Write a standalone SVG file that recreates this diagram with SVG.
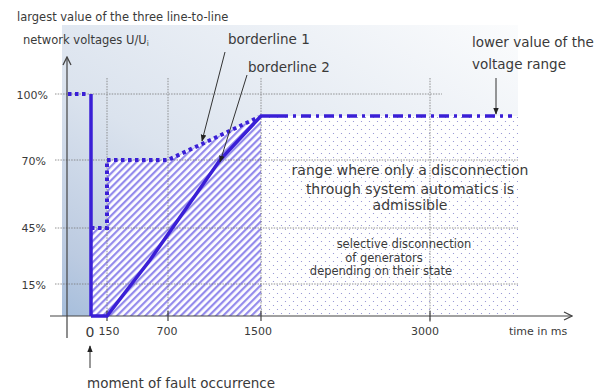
<svg xmlns="http://www.w3.org/2000/svg" width="609" height="392" viewBox="0 0 609 392">
<defs>
<linearGradient id="bg" x1="0" y1="1" x2="1" y2="0">
<stop offset="0" stop-color="#a6bedc"/>
<stop offset="0.12" stop-color="#bccbe1"/>
<stop offset="0.4" stop-color="#dbe3ee"/>
<stop offset="1" stop-color="#fbfcfd"/>
</linearGradient>
<pattern id="hatch" width="5" height="5" patternUnits="userSpaceOnUse" patternTransform="rotate(45)">
<rect width="5" height="5" fill="#ffffff"/>
<rect width="2.2" height="5" fill="#948bec"/>
</pattern>
<pattern id="dots" width="8" height="8" patternUnits="userSpaceOnUse">
<rect width="8" height="8" fill="#ffffff"/>
<circle cx="1.5" cy="1.5" r="0.6" fill="#8a8ad0"/>
<circle cx="5.5" cy="5.5" r="0.6" fill="#8a8ad0"/>
</pattern>
<marker id="arr" viewBox="0 0 10 10" refX="9" refY="5" markerWidth="7" markerHeight="7" orient="auto-start-reverse" markerUnits="userSpaceOnUse">
<path d="M0,1 L10,5 L0,9 z" fill="#222"/>
</marker>
<marker id="axarr" viewBox="0 0 10 10" refX="9" refY="5" markerWidth="10" markerHeight="10" orient="auto" markerUnits="userSpaceOnUse">
<path d="M1,1 L9,5 L1,9" fill="none" stroke="#444" stroke-width="1.3"/>
</marker>
</defs>
<style>
text{font-family:"DejaVu Sans","Liberation Sans",sans-serif;fill:#3a3a3a}
.grid{stroke:#777;stroke-width:0.8;stroke-dasharray:1.5 1.2;fill:none}
.axis{stroke:#444;stroke-width:1.2;fill:none}
.main{stroke:#3a1fd6;stroke-width:3.5;fill:none}
.dot{stroke:#3a1fd6;stroke-width:4;fill:none;stroke-dasharray:3.5 3.5}
.lead{stroke:#333;stroke-width:1;fill:none}
.yl{font-size:11px;text-anchor:end}
.xl{font-size:11px;text-anchor:middle}
</style>

<g id="background">
<rect x="62" y="25" width="456" height="291" fill="url(#bg)"/>
<rect x="261" y="116" width="257" height="200" fill="url(#dots)"/>
<path d="M91,316 L91,228 L107,228 L107,160 L168,160 L261,116 L261,316 Z" fill="url(#hatch)"/>
</g>

<g id="grid">
<line class="grid" x1="55" y1="94" x2="442" y2="94"/>
<line class="grid" x1="55" y1="160" x2="518" y2="160"/>
<line class="grid" x1="55" y1="228" x2="518" y2="228"/>
<line class="grid" x1="55" y1="284" x2="518" y2="284"/>
<line class="grid" x1="107" y1="78" x2="107" y2="316"/>
<line class="grid" x1="168" y1="78" x2="168" y2="316"/>
<line class="grid" x1="261" y1="78" x2="261" y2="316"/>
<line class="grid" x1="430" y1="78" x2="430" y2="322"/>
</g>

<g id="axes">
<line class="axis" x1="67" y1="338" x2="67" y2="57" marker-end="url(#axarr)"/>
<line class="axis" x1="50" y1="316" x2="572" y2="316" marker-end="url(#axarr)"/>
<line class="axis" x1="107" y1="311" x2="107" y2="321"/>
<line class="axis" x1="168" y1="311" x2="168" y2="321"/>
<line class="axis" x1="261" y1="311" x2="261" y2="321"/>
<line class="axis" x1="430" y1="311" x2="430" y2="321"/>
</g>

<g id="curves">
<line class="dot" x1="68" y1="94" x2="88" y2="94"/>
<line class="main" x1="91" y1="94" x2="91" y2="316"/>
<polyline class="dot" points="91,228 107,228 107,160 168,160 259,117"/>
<polyline class="main" points="91,316 107,316 150,260 220,160 261,116 278,116"/>
<line class="main" x1="278" y1="116" x2="512" y2="116" stroke-width="4" stroke-dasharray="10 5 3 5"/>
</g>

<g id="connectors">
<line class="lead" x1="225" y1="52" x2="202" y2="141" marker-end="url(#arr)"/>
<line class="lead" x1="247" y1="75" x2="220" y2="162" marker-end="url(#arr)"/>
<line class="lead" x1="496" y1="78" x2="496" y2="114" marker-end="url(#arr)"/>
<line class="lead" x1="90" y1="368" x2="90" y2="346" marker-end="url(#arr)"/>
</g>

<g id="labels">
<text x="17" y="21" font-size="11.5">largest value of the three line-to-line</text>
<text x="23" y="44" font-size="11.5">network voltages U/U<tspan font-size="7.5" dy="2">i</tspan></text>
<text x="228" y="44" font-size="13.5">borderline 1</text>
<text x="248" y="72" font-size="13.5">borderline 2</text>
<text x="472" y="47" font-size="13.5">lower value of the</text>
<text x="472" y="69" font-size="13.5">voltage range</text>
<text class="yl" x="48" y="99">100%</text>
<text class="yl" x="46" y="165">70%</text>
<text class="yl" x="46" y="232">45%</text>
<text class="yl" x="46" y="289">15%</text>
<text x="90" y="337" font-size="14" text-anchor="middle">0</text>
<text class="xl" x="109" y="335">150</text>
<text class="xl" x="167" y="335">700</text>
<text class="xl" x="258" y="335">1500</text>
<text class="xl" x="425" y="335">3000</text>
<text x="509" y="335" font-size="11">time in ms</text>
<text x="87" y="388" font-size="13.5">moment of fault occurrence</text>
<text x="410" y="175" font-size="14" text-anchor="middle">range where only a disconnection</text>
<text x="410" y="194" font-size="14" text-anchor="middle">through system automatics is</text>
<text x="410" y="210" font-size="14" text-anchor="middle">admissible</text>
<text x="404" y="248" font-size="11.5" text-anchor="middle">selective disconnection</text>
<text x="384" y="262" font-size="11.5" text-anchor="middle">of generators</text>
<text x="381" y="275" font-size="11.5" text-anchor="middle">depending on their state</text>
</g>
</svg>
